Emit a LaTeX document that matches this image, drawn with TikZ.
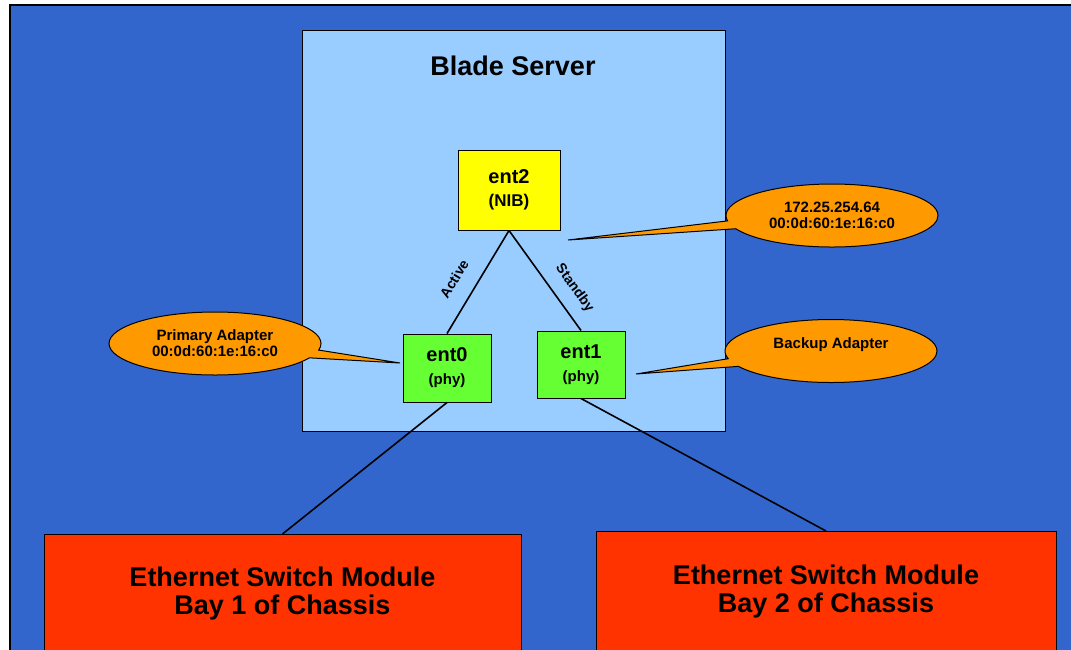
\documentclass[tikz,border=0pt]{standalone}
\usepackage{fontspec}
\setmainfont{Liberation Sans}
\usetikzlibrary{shapes.callouts}
\definecolor{slideblue}{HTML}{3366CC}
\definecolor{serverblue}{HTML}{99CCFF}
\definecolor{nibyellow}{HTML}{FFFF00}
\definecolor{phygreen}{HTML}{66FF33}
\definecolor{bayred}{HTML}{FF3300}
\definecolor{noteorange}{HTML}{FF9900}
\tikzset{
        box/.style={draw,rectangle,inner sep=0pt,line width=1pt},
        adapter/.style={box,fill=phygreen,minimum width=88pt,minimum height=68pt,align=center,font=\fontsize{20}{23}\bfseries\selectfont},
        bay/.style={box,fill=bayred,anchor=north,align=center,font=\fontsize{27}{28.5}\bfseries\selectfont},
        note/.style={ellipse callout,draw,fill=noteorange,line width=1pt,inner sep=0pt,minimum width=212pt,minimum height=63pt,align=center,font=\fontsize{15}{16}\bfseries\selectfont},
        link/.style={line width=1.6pt},
        linklabel/.style={sloped,inner sep=1pt,font=\fontsize{14}{15}\bfseries\selectfont}
}
\begin{document}
\begin{tikzpicture}[x=1pt,y=-1pt]
        \useasboundingbox (0,0) rectangle (1071,649);
        \clip (0,0) rectangle (1071,649);
        %% Slide
        \draw[line width=2pt,fill=slideblue] (10,5) rectangle (1100,700);
        %% Server
        \node[box,fill=serverblue,minimum width=423pt,minimum height=401pt] (blade) at (513.5,230.5) {};
        \node[font=\fontsize{27}{30}\bfseries\selectfont] (bladetitle) at (513,66) {Blade Server};
        \node[box,fill=nibyellow,minimum width=102pt,minimum height=80pt,align=center,font=\fontsize{20}{23}\bfseries\selectfont] (ent2) at (509,190) {ent2\\{\fontsize{17}{20}\selectfont (NIB)}};
        \node[adapter] (ent0) at (447,368) {ent0\\{\fontsize{15}{17}\selectfont (phy)}};
        \node[adapter,minimum height=67pt] (ent1) at (581,364.5) {ent1\\{\fontsize{15}{17}\selectfont (phy)}};
        %% Switch modules
        \node[bay,minimum width=477pt,minimum height=118pt] (bay1) at (282.5,534) {Ethernet Switch Module\\Bay 1 of Chassis};
        \node[bay,minimum width=460pt,minimum height=120pt] (bay2) at (826,531) {Ethernet Switch Module\\Bay 2 of Chassis};
        %% Links
        \draw[link] (ent2.south) -- (ent0.north) node[linklabel,pos=0.58,above=15pt] {Active};
        \draw[link] (ent2.south) -- (ent1.north) node[linklabel,pos=0.69,above=11pt] {Standby};
        \draw[link] (ent0.south) -- (bay1.north);
        \draw[link] (ent1.south) -- (bay2.north);
        %% Notes
        \coordinate (niptip) at (568,240);
        \coordinate (primtip) at (400,363);
        \coordinate (backtip) at (636,374);
        \node[note,callout absolute pointer=(niptip)] (nipnote) at (832,215.5) {172.25.254.64\\00:0d:60:1e:16:c0};
        \node[note,callout absolute pointer=(primtip)] (primnote) at (215,343.5) {Primary Adapter\\00:0d:60:1e:16:c0};
        \node[note,callout absolute pointer=(backtip)] (backnote) at (831,351) {Backup Adapter\\~};
\end{tikzpicture}
\end{document}
